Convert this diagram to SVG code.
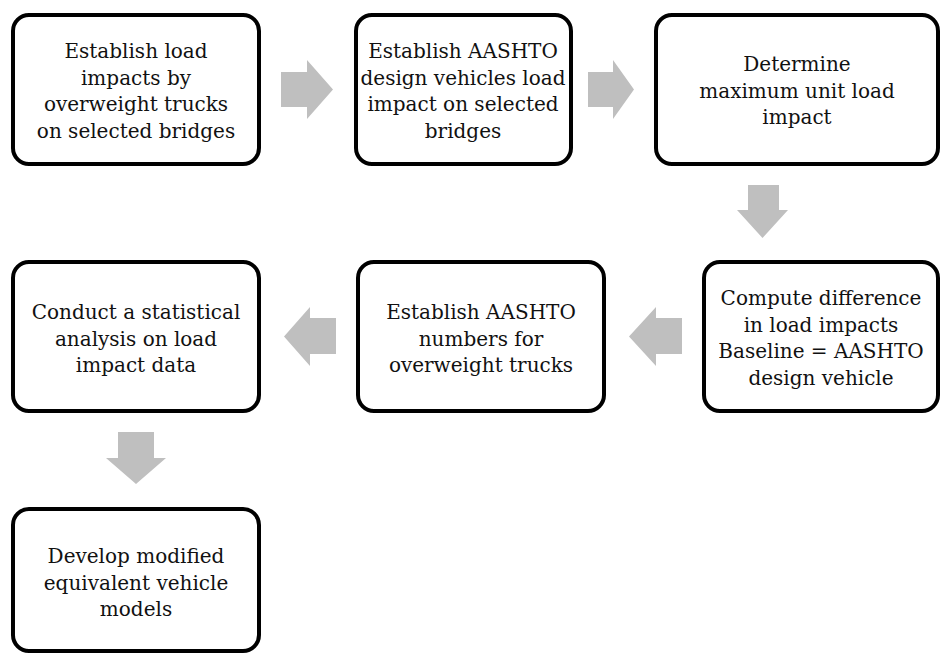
<svg xmlns="http://www.w3.org/2000/svg" width="941" height="654" viewBox="0 0 941 654">
<style>
.box{fill:#fff;stroke:#000;stroke-width:4}
.t{font-family:"DejaVu Serif",serif;font-size:20px;fill:#111;text-anchor:middle}
.arr{fill:#bfbfbf}
</style>
<rect width="941" height="654" fill="#fff"/>
<g id="n1"><rect class="box" x="13" y="15" width="246" height="149" rx="16"/>
<text class="t"><tspan x="136" y="58">Establish load</tspan><tspan x="136" y="84.5">impacts by</tspan><tspan x="136" y="111">overweight trucks</tspan><tspan x="136" y="137.5">on selected bridges</tspan></text></g>
<g id="n2"><rect class="box" x="356" y="15" width="215" height="149" rx="16"/>
<text class="t"><tspan x="463" y="58">Establish AASHTO</tspan><tspan x="463" y="84.5">design vehicles load</tspan><tspan x="463" y="111">impact on selected</tspan><tspan x="463" y="137.5">bridges</tspan></text></g>
<g id="n3"><rect class="box" x="656" y="15" width="282" height="149" rx="16"/>
<text class="t"><tspan x="797" y="71">Determine</tspan><tspan x="797" y="97.5">maximum unit load</tspan><tspan x="797" y="124">impact</tspan></text></g>
<g id="n4"><rect class="box" x="13" y="262" width="246" height="149" rx="16"/>
<text class="t"><tspan x="136" y="319">Conduct a statistical</tspan><tspan x="136" y="345.5">analysis on load</tspan><tspan x="136" y="372">impact data</tspan></text></g>
<g id="n5"><rect class="box" x="358" y="262" width="246" height="149" rx="16"/>
<text class="t"><tspan x="481" y="319">Establish AASHTO</tspan><tspan x="481" y="345.5">numbers for</tspan><tspan x="481" y="372">overweight trucks</tspan></text></g>
<g id="n6"><rect class="box" x="704" y="262" width="234" height="149" rx="16"/>
<text class="t"><tspan x="821" y="305">Compute difference</tspan><tspan x="821" y="331.5">in load impacts</tspan><tspan x="821" y="358">Baseline = AASHTO</tspan><tspan x="821" y="384.5">design vehicle</tspan></text></g>
<g id="n7"><rect class="box" x="13" y="509" width="246" height="142" rx="16"/>
<text class="t"><tspan x="136" y="563">Develop modified</tspan><tspan x="136" y="589.5">equivalent vehicle</tspan><tspan x="136" y="616">models</tspan></text></g>
<g id="connectors">
<polygon class="arr" points="281,72 307,72 307,60 333,89.5 307,119 307,107 281,107"/>
<polygon class="arr" points="588,72 613,72 613,60 634,89.5 613,119 613,107 588,107"/>
<polygon class="arr" points="748,185 779,185 779,210 788,210 762.5,238 737,210 748,210"/>
<polygon class="arr" points="682,318 656,318 656,307 629,336.5 656,366 656,354 682,354"/>
<polygon class="arr" points="336,318 310,318 310,307 284,336.5 310,366 310,354 336,354"/>
<polygon class="arr" points="118,432 154,432 154,458 166,458 136,484 106,458 118,458"/>
</g>
</svg>
